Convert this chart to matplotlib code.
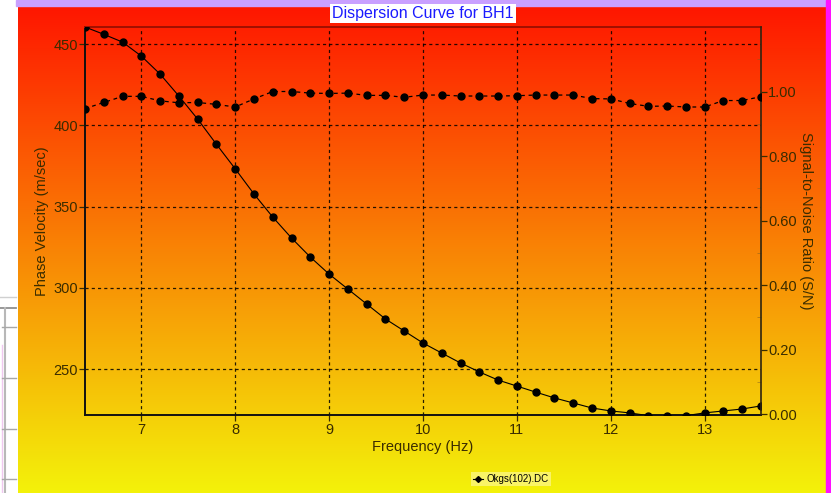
import numpy as np
import matplotlib
matplotlib.use("Agg")
import matplotlib.pyplot as plt
from matplotlib.lines import Line2D
from matplotlib.patches import Rectangle

plt.rcParams['font.family'] = ['Liberation Sans', 'DejaVu Sans']

# ---- data ----
freq = [6.4, 6.6, 6.8, 7.0, 7.2, 7.4, 7.6, 7.8, 8.0, 8.2, 8.4, 8.6, 8.8, 9.0,
        9.2, 9.4, 9.6, 9.8, 10.0, 10.2, 10.4, 10.6, 10.8, 11.0, 11.2, 11.4,
        11.6, 11.8, 12.0, 12.2, 12.4, 12.6, 12.8, 13.0, 13.2, 13.4, 13.6]
velocity = [460.5, 456.0, 451.2, 442.6, 431.5, 418.0, 403.8, 388.3, 373.2,
            357.7, 343.5, 330.6, 318.9, 308.4, 299.2, 290.0, 280.8, 273.4,
            266.0, 259.8, 253.7, 248.2, 243.2, 239.5, 235.8, 232.2, 229.1,
            226.0, 224.2, 223.0, 221.3, 221.3, 221.3, 223.0, 224.2, 225.4, 227.3]
snr = [0.947, 0.966, 0.985, 0.985, 0.971, 0.965, 0.966, 0.960, 0.952, 0.977,
       1.000, 1.000, 0.995, 0.994, 0.995, 0.988, 0.988, 0.982, 0.989, 0.989,
       0.986, 0.986, 0.986, 0.987, 0.989, 0.989, 0.989, 0.978, 0.977, 0.963,
       0.954, 0.955, 0.952, 0.952, 0.972, 0.972, 0.984]
x_ticks = [7, 8, 9, 10, 11, 12, 13]
v_ticks = [250, 300, 350, 400, 450]
snr_ticks = [0.0, 0.2, 0.4, 0.6, 0.8, 1.0]
title = "Dispersion Curve for BH1"
legend_label = "Okgs(102).DC"

W, H = 831, 493
fig = plt.figure(figsize=(W / 100, H / 100), dpi=100)
fig.patch.set_facecolor('white')

def fx(px):
    return px / W

def fy(py):
    return 1 - py / H

# ---- background gradient ----
bg = fig.add_axes([fx(18), 0, fx(826) - fx(18), fy(6)], zorder=-10)
top = np.array([255, 22, 0]) / 255
bot = np.array([243, 242, 10]) / 255
t = np.linspace(0, 1, 256)[:, None]
grad = top[None, :] * (1 - t) + bot[None, :] * t
bg.imshow(grad[:, None, :], aspect='auto', extent=[0, 1, 0, 1])
bg.set_axis_off()

# top purple band, right magenta strip
fig.patches.append(Rectangle((fx(16), fy(6)), fx(826) - fx(16), 6 / H,
                             transform=fig.transFigure, color='#c9a0ff', zorder=-5))
fig.patches.append(Rectangle((fx(826), 0), 8 / W, 1,
                             transform=fig.transFigure, color='#ff10ff', zorder=-5))

# left window artefacts
def fline(x0, y0, x1, y1, c, lw=1.0):
    fig.lines.append(Line2D([fx(x0), fx(x1)], [fy(y0), fy(y1)],
                            transform=fig.transFigure, color=c, lw=lw, zorder=-4))

fline(0, 297, 16, 297, '#d0d0d0')
fline(0, 308, 16, 308, '#909090', 1.3)
fline(4.7, 308, 4.7, 493, '#b8b8b8', 1.5)
fline(1.7, 345, 1.7, 493, '#f0c8f0', 1.0)
for yy in [327, 378, 429, 479]:
    fline(2, yy, 16, yy, '#a8a8a8', 1.0)

# ---- main axes ----
ax = fig.add_axes([fx(85), fy(415), fx(761) - fx(85), fy(27) - fy(415)])
ax.patch.set_alpha(0)
ax2 = ax.twinx()
ax2.patch.set_alpha(0)

tc = '#3a2c00'
ax.plot(freq, velocity, color='black', lw=0.8, marker='o', ms=5.0,
        zorder=3, clip_on=True)
ax2.plot(freq, snr, color='black', lw=0.9, ls=(0, (3, 3)), marker='o', ms=5.0,
         zorder=3, clip_on=True)

ax.set_xlim(6.4, 13.6)
ax.set_ylim(221.7, 460.5)
ax2.set_ylim(-0.003, 1.2)

ax.set_xticks(x_ticks)
ax.set_xticklabels([str(v) for v in x_ticks])
ax.set_yticks(v_ticks)
ax.set_yticklabels([str(v) for v in v_ticks])
ax2.set_yticks(snr_ticks)
ax2.set_yticklabels([f"{v:.2f}" for v in snr_ticks])
ax2.set_yticks([0.1, 0.3, 0.5, 0.7, 0.9, 1.1], minor=True)

ax.grid(True, color='black', lw=0.9, ls=(0, (2.5, 2.5)), alpha=0.85)

ax.tick_params(axis='both', direction='out', length=4, width=0.9, color=tc,
               labelcolor=tc, labelsize=10.5, pad=1)
ax.tick_params(axis='x', pad=2)
ax2.tick_params(axis='y', direction='out', length=4, width=0.9, color=tc,
                labelcolor=tc, labelsize=10.5, pad=1)
ax2.tick_params(axis='y', which='minor', direction='in', length=3, width=0.7,
                color='#80602080')

for s in ['left', 'bottom']:
    ax.spines[s].set_color('#111111')
    ax.spines[s].set_linewidth(1.4)
ax.spines['top'].set_color('#a01000')
ax.spines['top'].set_linewidth(1.4)
ax.spines['right'].set_visible(False)
for s in ['left', 'bottom', 'top']:
    ax2.spines[s].set_visible(False)
ax2.spines['right'].set_color('#2e2410')
ax2.spines['right'].set_linewidth(1.2)

ax.set_xlabel("Frequency (Hz)", fontsize=10.5, color=tc, labelpad=2)
ax.set_ylabel("Phase Velocity (m/sec)", fontsize=10.5, color=tc, labelpad=3)
ax2.set_ylabel("Signal-to-Noise Ratio (S/N)", fontsize=10.5, color=tc,
               rotation=270, va='bottom', labelpad=2)

# ---- title ----
fig.text(fx(423), fy(13.5), title, ha='center', va='center', fontsize=11.5,
         color='#1a1aff',
         bbox=dict(boxstyle='square,pad=0.12', fc='white', ec='none'))

# ---- legend ----
h = Line2D([], [], color='black', lw=0.8, marker='D', ms=3)
leg = fig.legend(handles=[h], labels=[legend_label], loc='center',
                 bbox_to_anchor=(fx(511), fy(479)), fontsize=7, frameon=True,
                 fancybox=False, handlelength=1.0, handletextpad=0.4,
                 borderpad=0.25, borderaxespad=0)
leg.get_frame().set_facecolor('#fbf680')
leg.get_frame().set_edgecolor('none')

fig.savefig("out.png", dpi=100)
